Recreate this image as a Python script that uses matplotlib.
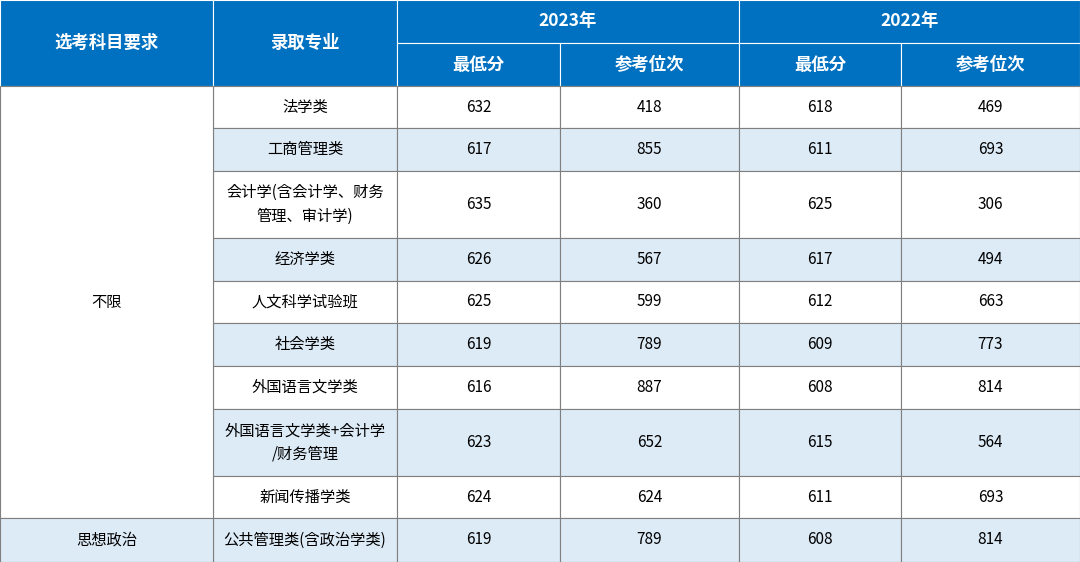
import matplotlib.pyplot as plt
from matplotlib.patches import Rectangle
from matplotlib import font_manager

# pick whichever CJK family is actually registered
names = {f.name for f in font_manager.fontManager.ttflist}
cjk = [n for n in ['Noto Sans CJK SC', 'Noto Sans CJK JP', 'Noto Sans CJK TC',
                   'Noto Sans CJK KR', 'Noto Sans SC'] if n in names]
plt.rcParams['font.family'] = cjk + ['DejaVu Sans']

majors = ['法学类', '工商管理类', '会计学(含会计学、财务\n管理、审计学)', '经济学类', '人文科学试验班',
          '社会学类', '外国语言文学类', '外国语言文学类+会计学\n/财务管理', '新闻传播学类', '公共管理类(含政治学类)']
min_2023 = [632, 617, 635, 626, 625, 619, 616, 623, 624, 619]
rank_2023 = [418, 855, 360, 567, 599, 789, 887, 652, 624, 789]
min_2022 = [618, 611, 625, 617, 612, 609, 608, 615, 611, 608]
rank_2022 = [469, 693, 306, 494, 663, 773, 814, 564, 693, 814]
requirements = ['不限', '思想政治']

BLUE = '#0070C0'
LIGHT = '#DDEBF7'
LINE = '#7F7F7F'
col_x = [0, 213, 397, 560, 739, 901, 1080]
row_y = [86, 128, 171, 238, 281, 323, 366, 409, 476, 518, 562]

fig = plt.figure(figsize=(10.8, 5.62), dpi=100)
ax = fig.add_axes([0, 0, 1, 1])
ax.set_xlim(0, 1080)
ax.set_ylim(562, 0)
ax.axis('off')


def cell(x0, x1, y0, y1, color, text='', tcolor='#000000', bold=False, size=11):
    ax.add_patch(Rectangle((x0, y0), x1 - x0, y1 - y0, facecolor=color,
                           edgecolor=LINE if color != BLUE else 'white', lw=0.8))
    if text:
        ax.text((x0 + x1) / 2, (y0 + y1) / 2, text, ha='center', va='center',
                color=tcolor, fontsize=size, fontweight='bold' if bold else 'normal',
                linespacing=1.5)


# header
cell(0, 213, 0, 86, BLUE, '选考科目要求', 'white', True, 12.5)
cell(213, 397, 0, 86, BLUE, '录取专业', 'white', True, 12.5)
cell(397, 739, 0, 43, BLUE, '2023年', 'white', True, 12.5)
cell(739, 1080, 0, 43, BLUE, '2022年', 'white', True, 12.5)
for i, name in enumerate(['最低分', '参考位次', '最低分', '参考位次']):
    cell(col_x[i + 2], col_x[i + 3], 43, 86, BLUE, name, 'white', True, 12.5)

# body
for i, major in enumerate(majors):
    bg = LIGHT if i % 2 == 1 or i == len(majors) - 1 else 'white'
    y0, y1 = row_y[i], row_y[i + 1]
    vals = [major, min_2023[i], rank_2023[i], min_2022[i], rank_2022[i]]
    for j, v in enumerate(vals):
        cell(col_x[j + 1], col_x[j + 2], y0, y1, bg, str(v))

cell(0, 213, row_y[0], row_y[9], 'white', requirements[0])
cell(0, 213, row_y[9], row_y[10], LIGHT, requirements[1])

fig.savefig('out.png', dpi=100)
